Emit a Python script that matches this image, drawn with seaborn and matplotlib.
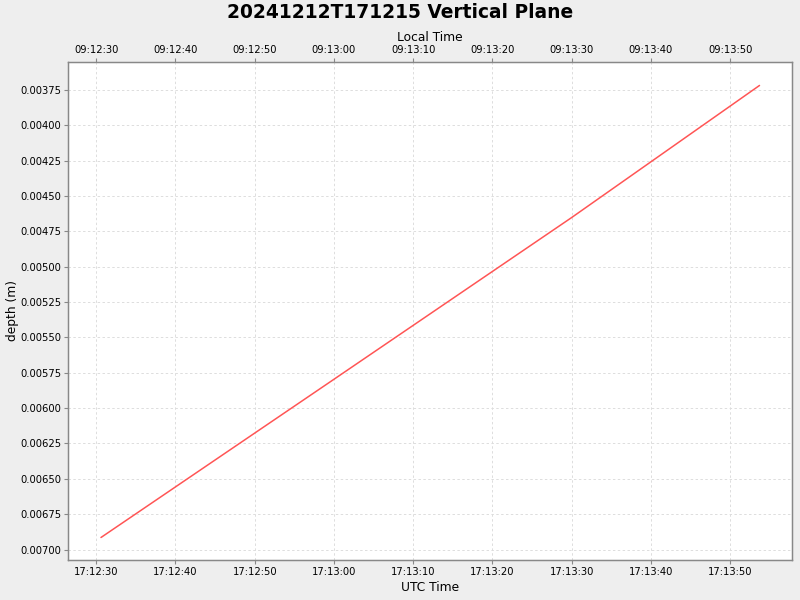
import pandas as pd
import numpy as np
import matplotlib
matplotlib.use("Agg")
import matplotlib.pyplot as plt
import matplotlib.dates as mdates
import seaborn as sns

# data
utc_times = ["2024-12-12 17:12:30.6", "2024-12-12 17:13:00.0", "2024-12-12 17:13:30.0",
             "2024-12-12 17:13:53.7"]
depths = [0.006915, 0.005796, 0.004652, 0.003718]
x_start = "2024-12-12 17:12:26.5"
x_end = "2024-12-12 17:13:57.8"
depth_lim = (0.007074, 0.003552)
local_offset_hours = -8

df = pd.DataFrame({"time": pd.to_datetime(utc_times), "depth": depths})

sns.set_style("white")
plt.rcParams["font.family"] = ["DejaVu Sans"]
plt.rcParams["text.color"] = "black"
plt.rcParams["axes.labelcolor"] = "black"
plt.rcParams["xtick.color"] = "black"
plt.rcParams["ytick.color"] = "black"

fig = plt.figure(figsize=(8, 6), dpi=100, facecolor="#eeeeee")
ax = fig.add_axes([0.0856, 0.0667, 0.9044, 0.83])
ax.set_facecolor("white")

sns.lineplot(data=df, x="time", y="depth", ax=ax, color="#ff5555", linewidth=1.1)

ax.set_xlim(pd.Timestamp(x_start), pd.Timestamp(x_end))
ax.set_ylim(*depth_lim)
ax.xaxis.set_major_locator(mdates.SecondLocator(bysecond=range(0, 60, 10)))
ax.xaxis.set_major_formatter(mdates.DateFormatter("%H:%M:%S"))
ax.yaxis.set_major_locator(plt.MultipleLocator(0.00025))
ax.yaxis.set_major_formatter(plt.FormatStrFormatter("%.5f"))

ax.grid(True, color="#dddddd", linestyle=(0, (2.5, 2.5)), linewidth=0.7)
for s in ax.spines.values():
    s.set_color("#888888")
    s.set_linewidth(1.0)
ax.tick_params(axis="both", labelsize=7.2, length=3, color="#888888", labelcolor="black",
               direction="out", left=True, bottom=True, pad=2)

ax.set_xlabel("UTC Time", fontsize=8.8, labelpad=3, color="black")
ax.set_ylabel("depth (m)", fontsize=8.8, labelpad=1, color="black")

# top axis showing local time
top = ax.twiny()
top.set_xlim(ax.get_xlim())
top.xaxis.set_major_locator(mdates.SecondLocator(bysecond=range(0, 60, 10)))
shift = pd.Timedelta(hours=local_offset_hours)
top.xaxis.set_major_formatter(plt.FuncFormatter(
    lambda v, p: (mdates.num2date(v) + shift).strftime("%H:%M:%S")))
top.tick_params(axis="x", labelsize=7.2, length=3, color="#888888", labelcolor="black", pad=2)
top.set_xlabel("Local Time", fontsize=8.8, labelpad=3, color="black")
for s in top.spines.values():
    s.set_color("#888888")

fig.suptitle("20241212T171215 Vertical Plane", fontsize=13.4, fontweight="bold",
             color="black", y=0.995)

fig.savefig("out.png", dpi=100, facecolor=fig.get_facecolor())
